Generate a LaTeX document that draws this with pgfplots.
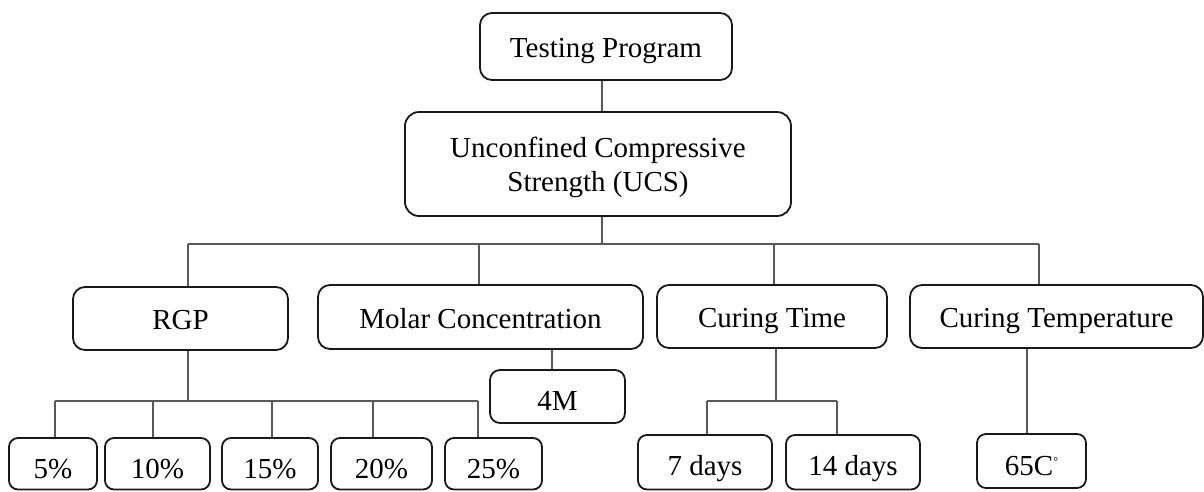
\documentclass[border=0pt]{standalone}
\usepackage{pgfplots}
\pgfplotsset{compat=1.18}
\usepackage{fontspec}
\setmainfont{Liberation Serif}
\tikzset{
  boxst/.style={draw=black!90, line width=1.8pt},
  lbl/.style={anchor=base, inner sep=0pt, font=\fontsize{29}{34}\selectfont, text=black}
}
\pgfplotsset{conn/.style={draw=black!65, line width=1.1pt, mark=none, forget plot}}
% \bx{x1}{y1}{x2}{y2}{radius}{baseline}{text}
\newcommand{\bx}[7]{%
  \draw[boxst, rounded corners=#5] (axis cs:#1,#2) rectangle (axis cs:#3,#4);
  \node[lbl] at (axis cs:{(#1+#3)/2},#6) {#7};
}
\begin{document}
\begin{tikzpicture}
\begin{axis}[
  scale only axis, width=1204pt, height=491pt,
  xmin=0, xmax=1204, ymin=0, ymax=491, y dir=reverse,
  axis lines=none, clip=false]
% connectors
\addplot[conn] coordinates {(602,80) (602,112)};
\addplot[conn] coordinates {(602,216) (602,244)};
\addplot[conn] coordinates {(188,244) (1039,244)};
\addplot[conn] coordinates {(188,244) (188,287)};
\addplot[conn] coordinates {(479,244) (479,285)};
\addplot[conn] coordinates {(774,244) (774,285)};
\addplot[conn] coordinates {(1039,244) (1039,285)};
\addplot[conn] coordinates {(552,349) (552,370)};
\addplot[conn] coordinates {(188,350) (188,401)};
\addplot[conn] coordinates {(55,401) (478,401)};
\addplot[conn] coordinates {(55,401) (55,438)};
\addplot[conn] coordinates {(153,401) (153,438)};
\addplot[conn] coordinates {(272,401) (272,438)};
\addplot[conn] coordinates {(373,401) (373,438)};
\addplot[conn] coordinates {(478,401) (478,438)};
\addplot[conn] coordinates {(776,348) (776,401)};
\addplot[conn] coordinates {(707,401) (837,401)};
\addplot[conn] coordinates {(707,401) (707,435)};
\addplot[conn] coordinates {(837,401) (837,435)};
\addplot[conn] coordinates {(1027,348) (1027,434)};
% boxes
\bx{480}{13}{732}{80}{12pt}{57}{Testing Program}
\draw[boxst, rounded corners=14pt] (axis cs:405,112) rectangle (axis cs:791,216);
\node[lbl] at (axis cs:598,157) {Unconfined Compressive};
\node[lbl] at (axis cs:598,191) {Strength (UCS)};
\bx{73}{287}{288}{350}{12pt}{329}{RGP}
\bx{318}{285}{643}{349}{12pt}{328}{Molar Concentration}
\bx{657}{285}{887}{348}{12pt}{327}{Curing Time}
\bx{910}{285}{1203}{348}{12pt}{327}{Curing Temperature}
\bx{490}{370}{625}{423}{10pt}{410}{4M}
\bx{9}{438}{97}{489.5}{9pt}{478}{5\%}
\bx{105}{438}{210}{489.5}{9pt}{478}{10\%}
\bx{222}{438}{318}{489.5}{9pt}{478}{15\%}
\bx{331}{438}{432}{489.5}{9pt}{478}{20\%}
\bx{445}{438}{542}{489.5}{9pt}{478}{25\%}
\bx{638}{435}{772}{489.5}{9pt}{475}{7 days}
\bx{786}{435}{920}{489.5}{9pt}{475}{14 days}
\bx{977}{434}{1086}{488}{9pt}{475}{65C\raisebox{10pt}{\fontsize{12}{12}\selectfont °}}
\end{axis}
\pgfresetboundingbox
\path (current axis.south west) rectangle (current axis.north east);
\end{tikzpicture}
\end{document}
